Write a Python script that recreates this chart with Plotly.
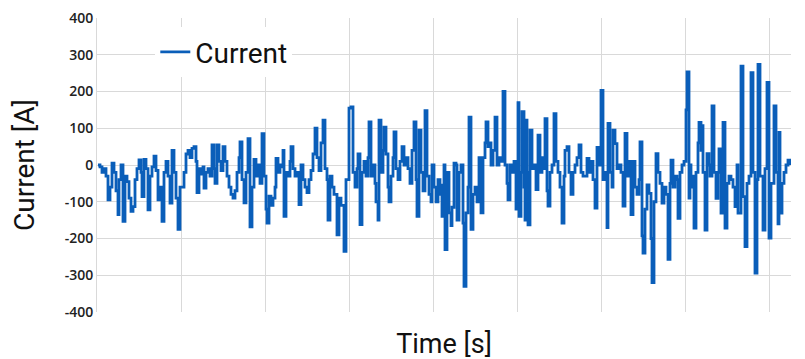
import plotly.graph_objects as go

# Time samples (arbitrary units, gridline every 84 units) and current [A]
time_1 = [1,3,5,7,9,11,13,15,17,19,21,22,24,26,28,30,32,34,36,38,40,42,44,45,47,49,51,53,55,57,59,61,63,65,67,69,71,73,75,77,79,81,83]
curr_1 = [0,-5,-20,-10,-30,-95,-60,5,-20,-70,-135,-40,0,-153,-30,-45,-90,-126,-113,-40,-10,14,-20,-86,15,-10,-122,-30,-5,24,-15,-95,-60,-153,-20,10,-30,-104,40,-20,-90,-175,-60]

time_2 = [85,87,89,91,93,95,97,99,100,102,104,106,107,109,111,113,115,117,118,120,122,124,126,128,130,132,134,136,138,140,142,143,145,147,149,151,153,155,157,159,161,163,165]
curr_2 = [-60,-20,30,40,20,45,50,10,-75,-10,-25,-5,-63,-20,-10,-30,55,-10,-50,55,10,-15,50,10,-30,-60,-80,-90,-70,-20,20,63,-40,-103,-20,72,-168,-60,15,-30,0,-50,85]

time_3 = [167,169,170,172,174,176,178,179,181,183,185,186,187,189,191,193,194,196,198,200,202,204,206,208,210,212,214,216,218,220,222,224,226,228,230,231,233,235,237,240,242,244,247,249,252]
curr_3 = [-30,-120,-158,-85,-110,-90,-60,18,-20,0,-5,40,-140,-20,-30,10,50,-10,-30,-20,-108,0,-40,-60,-75,-40,-15,30,100,20,-15,60,122,-10,-40,-150,-30,-60,-80,-190,-90,-110,-235,-40,155]

time_4 = [254,256,258,260,261,263,265,267,269,271,272,274,276,278,279,281,282,284,286,287,289,291,292,294,296,297,299,301,303,305,307,309,311,313,315,317,319,320,322,324,326,328,330,332,334,335]
curr_4 = [158,-20,-60,-10,30,-162,-20,10,-30,20,117,-30,0,-50,-100,-150,122,-20,40,103,30,-60,-100,-30,20,90,-10,-40,10,50,0,20,-10,-50,40,117,-40,-140,95,-20,-70,148,-30,-80,-100,0]

time_5 = [337,339,341,343,344,345,347,348,350,352,354,355,357,359,360,362,364,366,367,369,371,372,374,376,378,380,382,384,386,388,389,391,393,394,396,398,400,402,404,406,408,410,411,413,415,417,419,420]
curr_5 = [-60,-100,-40,-80,-55,-140,0,-230,-20,-130,-165,-115,5,0,-150,-20,0,-158,-330,-130,-60,130,-175,-80,-60,-100,20,-130,20,60,117,50,60,0,40,130,0,20,10,200,0,-50,-95,0,-20,10,-120,0]

time_6 = [421,422,424,425,427,428,429,430,431,433,435,437,439,441,443,445,447,448,450,451,453,455,457,459,461,463,465,467,468,470,472,474,476,478,480,482,484,486,488,490,492,494,496,498,500,502,504]
curr_6 = [170,-140,-20,145,-60,-150,122,-20,-163,95,-10,0,-67,81,-20,20,-10,126,-70,-112,-20,0,140,10,-20,-60,-158,-30,40,50,-20,-80,-20,0,20,55,-20,-30,-30,18,-20,10,-40,-117,48,0,203]

time_7 = [506,508,510,511,513,515,516,518,520,522,524,526,528,530,532,534,536,538,540,542,543,545,546,548,550,552,554,555,557,559,561,563,565,567,569,571,573,574,576,578,580,581,583,585,587,589,590,592]
curr_7 = [-40,-20,-170,113,-20,-60,95,58,-10,0,-20,-112,86,-30,10,-135,10,-60,-80,-40,63,-193,-240,-120,-54,-77,-200,-320,-100,31,-20,-50,-104,-60,-80,-257,-50,13,-60,-30,-40,-145,-20,0,10,150,253,-90]

time_8 = [593,594,596,597,599,601,602,604,605,606,608,610,612,613,615,617,619,621,622,624,626,628,630,632,634,636,638,640,641,644,646,648,650,652,654,656,658,660,661,663,666,668,670,672,674,677,679,681,682,683,685,687,689,691,693]
curr_8 = [0,-60,-30,-172,-20,60,116,40,107,-20,-177,31,0,-30,161,-20,-91,-20,44,-131,116,-172,-50,-30,-40,-60,-113,0,-131,269,-86,-222,-50,-30,251,-20,-294,-40,274,-30,-177,-10,225,-199,-50,161,-20,-160,89,-131,-50,-20,0,13,0]

time = time_1 + time_2 + time_3 + time_4 + time_5 + time_6 + time_7 + time_8
current = curr_1 + curr_2 + curr_3 + curr_4 + curr_5 + curr_6 + curr_7 + curr_8

y_ticks = [400, 300, 200, 100, 0, -100, -200, -300, -400]

fig = go.Figure()
fig.add_trace(go.Scatter(
    x=time, y=current, mode="lines", name="Current",
    line=dict(color="#0A5EB9", width=2.8, shape="hv"),
))

grid = "#d9d9d9"
fig.update_layout(
    width=805, height=359,
    margin=dict(l=89, r=22, t=10, b=55),
    paper_bgcolor="white", plot_bgcolor="white",
    showlegend=True,
    legend=dict(
        x=0.084, y=0.884, xanchor="left", yanchor="middle",
        bgcolor="white", font=dict(family="Roboto", size=28, color="#111"),
    ),
    xaxis=dict(
        range=[0, 694], tick0=0, dtick=84, showticklabels=False,
        showgrid=True, gridcolor=grid, gridwidth=1, zeroline=False,
        ticks="", automargin=False,
        title=dict(text="Time [s]", font=dict(family="Roboto", size=27, color="#111"), standoff=22),
    ),
    yaxis=dict(
        range=[-400, 400], tickvals=y_ticks, ticktext=[str(v) for v in y_ticks],
        showgrid=True, gridcolor=grid, gridwidth=1, zeroline=False,
        showline=True, linecolor=grid, linewidth=1, automargin=False,
        ticklabeloverflow="allow",
        tickfont=dict(family="Open Sans", size=14, color="#222", weight=600),
        title=dict(text="Current [A]", font=dict(family="Roboto", size=28, color="#111"), standoff=39),
    ),
)

fig.write_html("out.html")
